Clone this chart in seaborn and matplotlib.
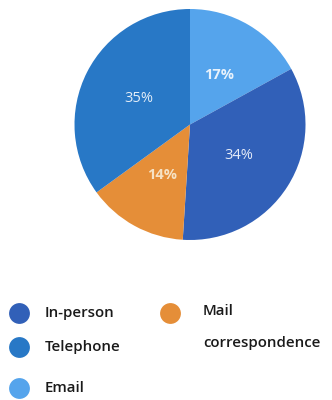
import matplotlib
matplotlib.use("Agg")
import matplotlib.pyplot as plt
import seaborn as sns
from matplotlib.lines import Line2D

sns.set_theme(style="white")
plt.rcParams['font.family'] = ['Open Sans', 'DejaVu Sans']

# Contact channels, in drawing order (clockwise from 12 o'clock)
channels = ["Email", "In-person", "Mail correspondence", "Telephone"]
shares = [17, 34, 14, 35]
colors = ["#55A4EC", "#3160B8", "#E58E38", "#2878C6"]
label_colors = ["#E8F2FC", "#E6ECF8", "#F6E2C4", "#E4EEF8"]
label_weights = ["bold", "normal", "bold", "normal"]

fig = plt.figure(figsize=(3.32, 4.0), dpi=100)
ax = fig.add_axes([74/332, 1 - 240/400, 232/332, 231/400])

wedges, texts, autotexts = ax.pie(
    shares, colors=colors, startangle=90, counterclock=False,
    autopct=lambda p: f"{p:.0f}%", pctdistance=0.5,
    wedgeprops=dict(linewidth=0),
    textprops=dict(fontsize=10.5),
)
for t, c, w in zip(autotexts, label_colors, label_weights):
    t.set_color(c)
    t.set_fontweight(w)
ax.set_xlim(-1, 1)
ax.set_ylim(-1, 1)
ax.set_aspect("equal")
ax.axis("off")

# Legend drawn as circle markers with labels
color_of = dict(zip(channels, colors))
markers = [
    ("In-person", 19, 313),
    ("Telephone", 19, 347),
    ("Email", 19, 388),
    ("Mail correspondence", 170, 313),
]
for name, x, y in markers:
    fx, fy = x / 332, 1 - y / 400
    fig.add_artist(Line2D([fx], [fy], marker="o", markersize=15,
                          color=color_of[name], markeredgewidth=0,
                          transform=fig.transFigure))
text_pos = [
    ("In-person", 45, 313),
    ("Telephone", 45, 347),
    ("Email", 45, 388),
    ("Mail", 203, 311),
    ("correspondence", 203, 343),
]
for s, x, y in text_pos:
    fig.text(x / 332, 1 - y / 400, s, fontsize=10.8, fontweight="semibold",
             color="#1a1a1a", va="center", ha="left")

fig.savefig("out.png", dpi=100, facecolor="white")
